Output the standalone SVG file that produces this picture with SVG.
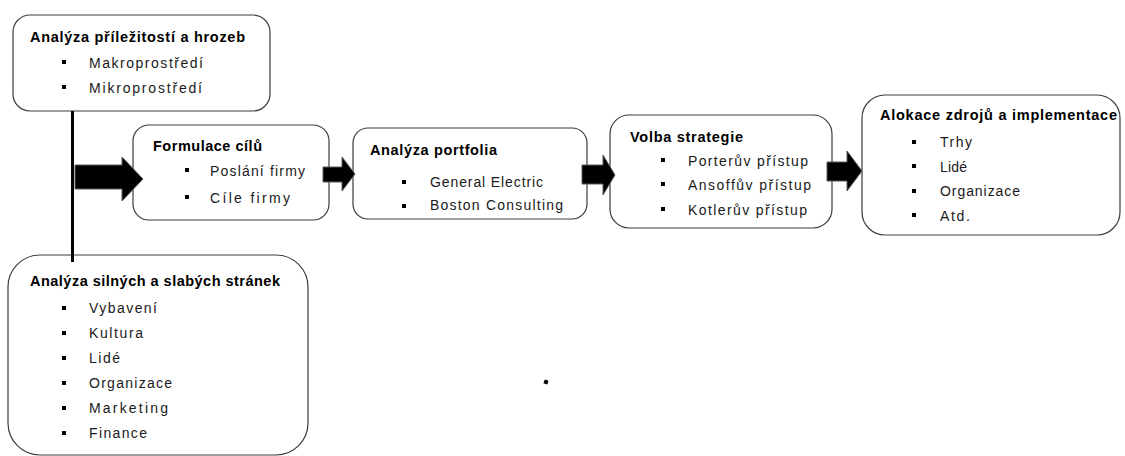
<svg xmlns="http://www.w3.org/2000/svg" width="1125" height="456" viewBox="0 0 1125 456">
<style>
.box{fill:#fff;stroke:#3c3c3c;stroke-width:1.2}
.t{font-family:"Liberation Sans",Arial,sans-serif;font-weight:bold;font-size:14.5px;fill:#000}
.i{font-family:"Liberation Sans",Arial,sans-serif;font-size:14px;fill:#1a1a1a}
.b{fill:#000}
.arr{fill:#000;stroke:#5a5a5a;stroke-width:1}
</style>
<rect width="1125" height="456" fill="#fff"/>
<g id="n1">
<rect class="box" x="13" y="15" width="257" height="96" rx="17"/>
<text class="t" x="30" y="42" textLength="215" lengthAdjust="spacing">Analýza příležitostí a hrozeb</text>
<rect class="b" x="62" y="60" width="4" height="4"/>
<text class="i" x="89" y="67.5" textLength="114" lengthAdjust="spacing">Makroprostředí</text>
<rect class="b" x="62" y="85" width="4" height="4"/>
<text class="i" x="89" y="92.5" textLength="113" lengthAdjust="spacing">Mikroprostředí</text>
</g>
<g id="n2">
<rect class="box" x="133" y="125" width="196" height="95" rx="16"/>
<text class="t" x="153" y="151" textLength="109" lengthAdjust="spacing">Formulace cílů</text>
<rect class="b" x="185" y="168" width="4" height="4"/>
<text class="i" x="210" y="175.5" textLength="95" lengthAdjust="spacing">Poslání firmy</text>
<rect class="b" x="185" y="195" width="4" height="4"/>
<text class="i" x="210" y="202.5" textLength="80" lengthAdjust="spacing">Cíle firmy</text>
</g>
<g id="n3">
<rect class="box" x="353" y="128" width="234" height="91" rx="15"/>
<text class="t" x="370" y="155" textLength="127" lengthAdjust="spacing">Analýza portfolia</text>
<rect class="b" x="402" y="180" width="4" height="4"/>
<text class="i" x="430" y="186.5" textLength="113" lengthAdjust="spacing">General Electric</text>
<rect class="b" x="402" y="204" width="4" height="4"/>
<text class="i" x="430" y="209.5" textLength="133" lengthAdjust="spacing">Boston Consulting</text>
</g>
<g id="n4">
<rect class="box" x="610" y="115" width="222" height="113" rx="19"/>
<text class="t" x="630" y="141.5" textLength="113" lengthAdjust="spacing">Volba strategie</text>
<rect class="b" x="661" y="158" width="4" height="4"/>
<text class="i" x="688" y="166" textLength="120" lengthAdjust="spacing">Porterův přístup</text>
<rect class="b" x="661" y="182" width="4" height="4"/>
<text class="i" x="688" y="190" textLength="123" lengthAdjust="spacing">Ansoffův přístup</text>
<rect class="b" x="661" y="207" width="4" height="4"/>
<text class="i" x="688" y="214.5" textLength="119" lengthAdjust="spacing">Kotlerův přístup</text>
</g>
<g id="n5">
<rect class="box" x="862" y="95" width="258" height="140" rx="23"/>
<text class="t" x="880" y="119.5" textLength="237" lengthAdjust="spacing">Alokace zdrojů a implementace</text>
<rect class="b" x="912" y="140" width="4" height="4"/>
<text class="i" x="940" y="146.5" textLength="32" lengthAdjust="spacing">Trhy</text>
<rect class="b" x="912" y="164" width="4" height="4"/>
<text class="i" x="940" y="171.5" textLength="27" lengthAdjust="spacing">Lidé</text>
<rect class="b" x="912" y="189" width="4" height="4"/>
<text class="i" x="940" y="196" textLength="80" lengthAdjust="spacing">Organizace</text>
<rect class="b" x="912" y="213" width="4" height="4"/>
<text class="i" x="940" y="220.5" textLength="30" lengthAdjust="spacing">Atd.</text>
</g>
<g id="n6">
<rect class="box" x="8" y="255" width="300" height="200" rx="32"/>
<text class="t" x="30" y="286" textLength="250" lengthAdjust="spacing">Analýza silných a slabých stránek</text>
<rect class="b" x="62" y="306" width="4" height="4"/>
<text class="i" x="89" y="312.5" textLength="68" lengthAdjust="spacing">Vybavení</text>
<rect class="b" x="62" y="331" width="4" height="4"/>
<text class="i" x="89" y="338" textLength="54" lengthAdjust="spacing">Kultura</text>
<rect class="b" x="62" y="356" width="4" height="4"/>
<text class="i" x="89" y="362.5" textLength="31" lengthAdjust="spacing">Lidé</text>
<rect class="b" x="62" y="381" width="4" height="4"/>
<text class="i" x="89" y="388" textLength="83" lengthAdjust="spacing">Organizace</text>
<rect class="b" x="62" y="406" width="4" height="4"/>
<text class="i" x="89" y="413" textLength="79" lengthAdjust="spacing">Marketing</text>
<rect class="b" x="62" y="431" width="4" height="4"/>
<text class="i" x="89" y="438" textLength="58" lengthAdjust="spacing">Finance</text>
</g>
<g id="connectors">
<line x1="72.5" y1="111" x2="72.5" y2="262" stroke="#000" stroke-width="3"/>
<polygon class="arr" points="75,165 122,165 122,157 143,179 122,201 122,189 75,189"/>
<polygon class="arr" points="323,167 342,167 342,157 355,174 342,191 342,182 323,182"/>
<polygon class="arr" points="582,165 603,165 603,155 615,175 603,195 603,184 582,184"/>
<polygon class="arr" points="827,162 847,162 847,151 862,171 847,191 847,181 827,181"/>
</g>
<rect x="544" y="380" width="4" height="4" fill="#000" transform="rotate(20 546 382)"/>
</svg>
